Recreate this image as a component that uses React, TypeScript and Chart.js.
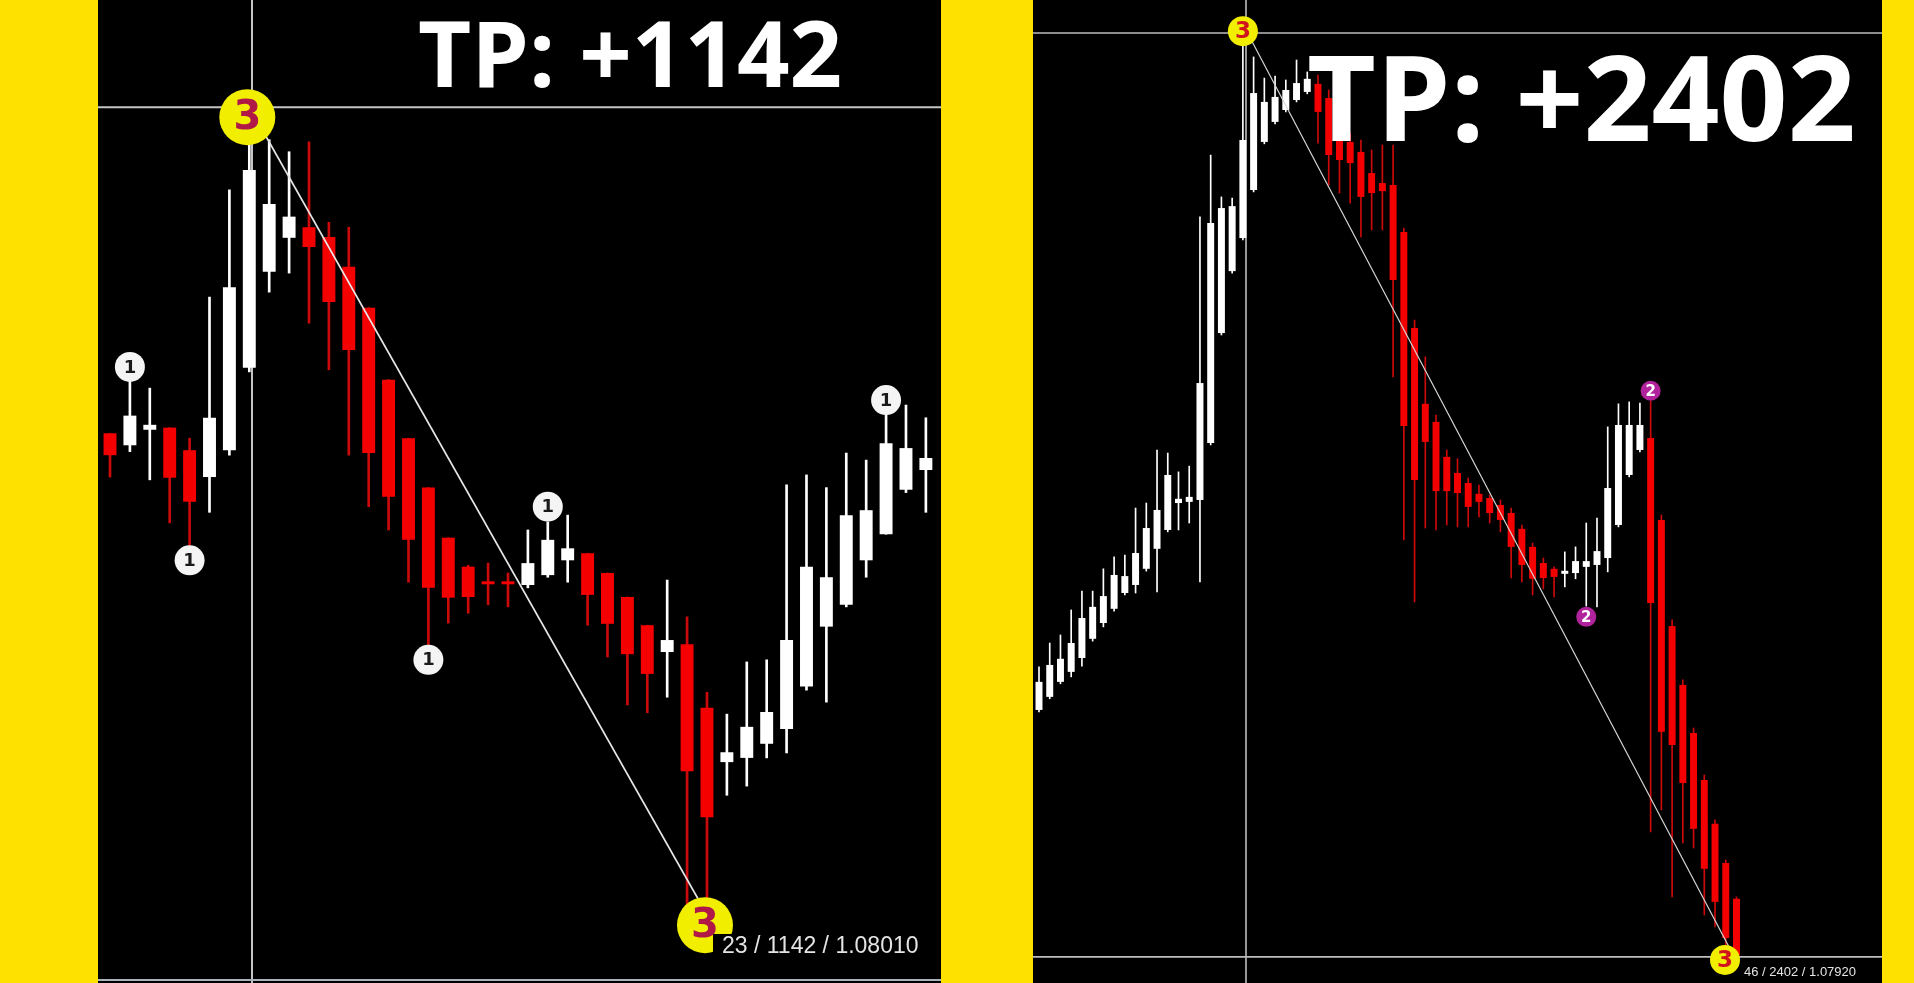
import React, { useEffect, useRef } from 'react';
import { Chart, registerables } from 'chart.js';

Chart.register(...registerables);

// ---------- LEFT CHART (23 bars, +1142) ----------
const L_OPEN = [1.08704, 1.08687, 1.08709, 1.08712, 1.0868, 1.08642, 1.0868, 1.08797, 1.08933, 1.08981, 1.08996, 1.08982, 1.0894, 1.08882, 1.0878, 1.08697, 1.08627, 1.08556, 1.08515, 1.08493, 1.08493, 1.08489, 1.08503, 1.08524, 1.08534, 1.08506, 1.08472, 1.08432, 1.08394, 1.08405, 1.08315, 1.08238, 1.08244, 1.08264, 1.08285, 1.08345, 1.0843, 1.08461, 1.08524, 1.08561, 1.08624, 1.08652];
const L_HIGH = [1.08704, 1.0878, 1.08768, 1.08712, 1.08697, 1.08897, 1.09049, 1.09127, 1.0912, 1.09103, 1.09117, 1.09003, 1.08996, 1.08882, 1.0878, 1.08697, 1.08627, 1.08556, 1.08517, 1.0852, 1.08506, 1.08567, 1.08578, 1.08588, 1.08534, 1.08506, 1.08472, 1.08432, 1.08496, 1.08444, 1.08337, 1.08306, 1.0838, 1.08383, 1.08631, 1.08645, 1.08627, 1.08676, 1.08666, 1.08731, 1.08744, 1.08726];
const L_LOW = [1.08642, 1.08678, 1.08638, 1.08577, 1.08541, 1.08592, 1.08673, 1.08791, 1.08904, 1.08931, 1.0886, 1.08794, 1.08673, 1.086, 1.08567, 1.08493, 1.08397, 1.08435, 1.08449, 1.08461, 1.08458, 1.08485, 1.085, 1.08493, 1.08432, 1.08387, 1.08319, 1.08308, 1.0833, 1.08019, 1.0801, 1.08191, 1.08204, 1.08244, 1.08251, 1.0834, 1.08323, 1.08458, 1.085, 1.08561, 1.0862, 1.08592];
const L_CLOSE = [1.08673, 1.08729, 1.08716, 1.08641, 1.08607, 1.08726, 1.08911, 1.09077, 1.09029, 1.09011, 1.08968, 1.0889, 1.08822, 1.08676, 1.08614, 1.08553, 1.08485, 1.08471, 1.08472, 1.0849, 1.0849, 1.0852, 1.08553, 1.08541, 1.08475, 1.08434, 1.08391, 1.08363, 1.08411, 1.08225, 1.0816, 1.08252, 1.08288, 1.08309, 1.08411, 1.08515, 1.085, 1.08588, 1.08595, 1.0869, 1.08683, 1.08669];
const L_MARK_X = [2, 5, 17, 23, 40, 7.9, 30.9];
const L_MARK_Y = [1.08798, 1.08524, 1.08383, 1.086, 1.08751, 1.09152, 1.08007];
const L_MARK_LABEL = ['1', '1', '1', '1', '1', '3', '3'];
const L_TREND_X = [8.29, 31.3];
const L_TREND_Y = [1.09152, 1.08007];
const L_CROSS_X = [8.136];
const L_CROSS_Y = [1.09166];

// ---------- RIGHT CHART (46 bars, +2402) ----------
const R_OPEN = [1.08562, 1.08596, 1.08635, 1.08661, 1.08697, 1.08747, 1.08788, 1.08825, 1.08866, 1.08887, 1.08929, 1.08981, 1.0903, 1.091, 1.09103, 1.09108, 1.09256, 1.09542, 1.09703, 1.09789, 1.09914, 1.10039, 1.10091, 1.10122, 1.10148, 1.10169, 1.1019, 1.10153, 1.10083, 1.10039, 1.10013, 1.09958, 1.09932, 1.09927, 1.09805, 1.09555, 1.09358, 1.09311, 1.0922, 1.09178, 1.09152, 1.09124, 1.09113, 1.09095, 1.09074, 1.09033, 1.08986, 1.08944, 1.08929, 1.08916, 1.08918, 1.08934, 1.08939, 1.08957, 1.09043, 1.09173, 1.09238, 1.09269, 1.09056, 1.0878, 1.08627, 1.08502, 1.0838, 1.08266, 1.08164, 1.08071];
const R_HIGH = [1.08674, 1.08736, 1.08757, 1.08822, 1.08871, 1.08871, 1.08929, 1.0896, 1.08965, 1.09087, 1.091, 1.09238, 1.0923, 1.09181, 1.09196, 1.09844, 1.10005, 1.09896, 1.09893, 1.10322, 1.1026, 1.10205, 1.1021, 1.102, 1.10252, 1.10221, 1.10213, 1.10174, 1.10101, 1.10062, 1.10044, 1.10018, 1.10031, 1.10031, 1.09815, 1.09576, 1.0948, 1.09329, 1.09238, 1.09215, 1.09165, 1.09147, 1.09121, 1.09108, 1.09087, 1.09043, 1.08996, 1.08957, 1.08934, 1.08973, 1.08986, 1.09048, 1.09061, 1.09298, 1.09358, 1.09363, 1.0936, 1.09365, 1.09069, 1.08796, 1.0864, 1.08515, 1.08393, 1.08276, 1.08172, 1.08076];
const R_LOW = [1.08557, 1.08591, 1.0863, 1.08648, 1.08676, 1.08741, 1.08778, 1.08819, 1.08861, 1.08866, 1.08923, 1.08869, 1.09025, 1.0903, 1.09048, 1.08895, 1.09251, 1.09537, 1.09698, 1.09784, 1.09909, 1.10034, 1.10086, 1.10117, 1.10143, 1.10164, 1.10036, 1.09927, 1.09906, 1.0988, 1.09792, 1.0981, 1.0981, 1.09428, 1.09004, 1.08843, 1.09035, 1.0903, 1.09043, 1.09038, 1.09038, 1.09064, 1.09048, 1.09025, 1.08905, 1.08895, 1.08861, 1.08877, 1.08856, 1.08882, 1.08903, 1.08832, 1.0883, 1.08921, 1.09038, 1.09168, 1.09233, 1.08245, 1.08302, 1.08076, 1.08216, 1.08203, 1.08029, 1.07998, 1.0792, 1.07925];
const R_CLOSE = [1.08635, 1.08679, 1.08695, 1.08736, 1.08801, 1.0883, 1.08858, 1.08913, 1.0891, 1.0897, 1.09035, 1.09082, 1.09173, 1.09111, 1.09116, 1.09412, 1.09828, 1.09867, 1.09872, 1.10044, 1.10166, 1.10143, 1.10156, 1.10174, 1.10192, 1.10203, 1.10117, 1.10005, 1.09992, 1.09984, 1.09896, 1.09906, 1.09911, 1.0968, 1.093, 1.0916, 1.09259, 1.09131, 1.09131, 1.09126, 1.0909, 1.09103, 1.09074, 1.09056, 1.08986, 1.08939, 1.08903, 1.08905, 1.08908, 1.08923, 1.08949, 1.08949, 1.08975, 1.09139, 1.09303, 1.09303, 1.09303, 1.0884, 1.08505, 1.08471, 1.08372, 1.08253, 1.08149, 1.08063, 1.07969, 1.07925];
const R_MARK_X = [20, 52, 58, 64.93];
const R_MARK_Y = [1.10327, 1.08804, 1.09392, 1.07912];
const R_MARK_LABEL = ['3', '2', '2', '3'];
const R_TREND_X = [20.29, 65.49];
const R_TREND_Y = [1.1033, 1.07936];
const R_CROSS_X = [20.29];
const R_CROSS_Y = [1.10322, 1.0792];

// ---------- styles ----------
const YELLOW = '#ffe100';
const UP = '#ffffff';
const DOWN = '#f50000';
const DOWN_WICK = '#cc0a0a';

type MarkStyle = { r: number; fill: string; text: string; font: string };
type Panel = {
  open: number[]; high: number[]; low: number[]; close: number[];
  markX: number[]; markY: number[]; markLabel: string[];
  trendX: number[]; trendY: number[];
  crossX: number[]; crossY: number[];
  xMin: number; xMax: number; yMin: number; yMax: number;
  bodyRatio: number; wickWidth: number;
  markStyle: Record<string, MarkStyle>;
  trendWidth: number; trendDash: number[]; trendColor: string;
  crossWidth: number; crossColor: string;
  bottomLine: boolean;
};

const LEFT: Panel = {
  open: L_OPEN, high: L_HIGH, low: L_LOW, close: L_CLOSE,
  markX: L_MARK_X, markY: L_MARK_Y, markLabel: L_MARK_LABEL,
  trendX: L_TREND_X, trendY: L_TREND_Y,
  crossX: L_CROSS_X, crossY: L_CROSS_Y,
  xMin: 0.397, xMax: 42.76, yMin: 1.07925, yMax: 1.09318,
  bodyRatio: 0.65, wickWidth: 2,
  markStyle: {
    '1': { r: 15, fill: '#f4f4f4', text: '#1a1a1a', font: 'bold 18px "DejaVu Sans"' },
    '3': { r: 28, fill: '#f2ee00', text: '#b01848', font: 'bold 40px "DejaVu Sans"' },
  },
  trendWidth: 1.8, trendDash: [], trendColor: '#e6e6e6',
  crossWidth: 2, crossColor: '#c4c4c4',
  bottomLine: true,
};

const RIGHT: Panel = {
  open: R_OPEN, high: R_HIGH, low: R_LOW, close: R_CLOSE,
  markX: R_MARK_X, markY: R_MARK_Y, markLabel: R_MARK_LABEL,
  trendX: R_TREND_X, trendY: R_TREND_Y,
  crossX: R_CROSS_X, crossY: R_CROSS_Y,
  xMin: 0.441, xMax: 79.56, yMin: 1.07852, yMax: 1.10408,
  bodyRatio: 0.65, wickWidth: 1,
  markStyle: {
    '2': { r: 10, fill: '#b0239c', text: '#ffffff', font: 'bold 15px "DejaVu Sans"' },
    '3': { r: 15, fill: '#f2ee00', text: '#d2141e', font: 'bold 23px "DejaVu Sans"' },
  },
  trendWidth: 1.2, trendDash: [], trendColor: '#d6d6d6',
  crossWidth: 1.6, crossColor: '#bdbdbd',
  bottomLine: false,
};

function CandleChart({ p, width, height }: { p: Panel; width: number; height: number }) {
  const ref = useRef<HTMLCanvasElement>(null);
  useEffect(() => {
    if (!ref.current) return;
    const n = p.open.length;
    const idx = Array.from({ length: n }, (_, i) => i + 1);
    const up = idx.map((_, i) => p.close[i] >= p.open[i]);
    const marks = p.markX.map((x, i) => ({ x, y: p.markY[i] }));
    const trend = p.trendX.map((x, i) => ({ x, y: p.trendY[i] }));

    const decor = {
      id: 'decor',
      beforeDraw(chart: any) {
        const c = chart.ctx;
        c.save();
        c.fillStyle = '#000';
        c.fillRect(0, 0, chart.width, chart.height);
        c.restore();
      },
      beforeDatasetsDraw(chart: any) {
        const c = chart.ctx;
        const xs = chart.scales.x;
        const ys = chart.scales.y;
        c.save();
        c.strokeStyle = p.crossColor;
        c.lineWidth = p.crossWidth;
        p.crossX.forEach((v) => {
          const px = xs.getPixelForValue(v);
          c.beginPath(); c.moveTo(px, 0); c.lineTo(px, chart.height); c.stroke();
        });
        p.crossY.forEach((v) => {
          const py = ys.getPixelForValue(v);
          c.beginPath(); c.moveTo(0, py); c.lineTo(chart.width, py); c.stroke();
        });
        c.restore();
      },
      afterDatasetsDraw(chart: any) {
        const c = chart.ctx;
        const meta = chart.getDatasetMeta(0);
        c.save();
        c.textAlign = 'center';
        c.textBaseline = 'middle';
        meta.data.forEach((el: any, i: number) => {
          const st = p.markStyle[p.markLabel[i]];
          c.font = st.font;
          c.fillStyle = st.text;
          c.fillText(p.markLabel[i], el.x, el.y + 1);
        });
        if (p.bottomLine) {
          c.fillStyle = '#aab3bc';
          c.fillRect(0, chart.height - 4, chart.width, 2);
        }
        c.restore();
      },
    };

    const chart = new Chart(ref.current, {
      type: 'bar',
      data: {
        datasets: [
          {
            type: 'scatter',
            data: marks,
            pointRadius: p.markLabel.map((l) => p.markStyle[l].r),
            pointHoverRadius: p.markLabel.map((l) => p.markStyle[l].r),
            pointBackgroundColor: p.markLabel.map((l) => p.markStyle[l].fill),
            pointBorderWidth: 0,
            clip: false,
            order: 0,
          } as any,
          {
            type: 'line',
            data: trend,
            borderColor: p.trendColor,
            borderWidth: p.trendWidth,
            borderDash: p.trendDash,
            pointRadius: 0,
            fill: false,
            order: 1,
          } as any,
          {
            type: 'bar',
            data: idx.map((x, i) => ({ x, y: [p.open[i], p.close[i]] })),
            backgroundColor: up.map((u) => (u ? UP : DOWN)),
            grouped: false,
            barPercentage: p.bodyRatio,
            categoryPercentage: 1,
            minBarLength: 3,
            borderWidth: 0,
            borderSkipped: false,
            order: 2,
          } as any,
          {
            type: 'bar',
            data: idx.map((x, i) => ({ x, y: [p.low[i], p.high[i]] })),
            backgroundColor: up.map((u) => (u ? UP : DOWN_WICK)),
            grouped: false,
            barThickness: p.wickWidth,
            borderWidth: 0,
            borderSkipped: false,
            order: 3,
          } as any,
        ],
      },
      options: {
        animation: false,
        responsive: false,
        maintainAspectRatio: false,
        events: [],
        layout: { padding: 0, autoPadding: false },
        plugins: { legend: { display: false }, tooltip: { enabled: false }, title: { display: false } },
        scales: {
          x: { type: 'linear', min: p.xMin, max: p.xMax, display: false, offset: false, grid: { display: false } },
          y: { type: 'linear', min: p.yMin, max: p.yMax, display: false, grid: { display: false } },
        },
      } as any,
      plugins: [decor as any],
    });
    return () => chart.destroy();
  }, [p]);
  return <canvas ref={ref} width={width} height={height} style={{ display: 'block', width, height }} />;
}

const tpStyle = (left: number, top: number, size: number): React.CSSProperties => ({
  position: 'absolute', left, top, fontFamily: '"Open Sans"', fontWeight: 700,
  fontSize: size, lineHeight: `${size}px`, color: '#ffffff', whiteSpace: 'nowrap',
});

const infoStyle = (left: number, top: number, size: number, pad: number): React.CSSProperties => ({
  position: 'absolute', left, top, fontFamily: '"Liberation Sans"', fontSize: size,
  lineHeight: `${size}px`, color: '#e4e4e4', background: '#000', paddingLeft: pad, paddingRight: 3,
  whiteSpace: 'nowrap',
});

export default function App() {
  return (
    <div style={{ position: 'fixed', left: 0, top: 0, width: 1914, height: 983, background: YELLOW, overflow: 'hidden' }}>
      <div style={{ position: 'absolute', left: 98, top: 0 }}>
        <CandleChart p={LEFT} width={843} height={983} />
      </div>
      <div style={{ position: 'absolute', left: 1033, top: 0 }}>
        <CandleChart p={RIGHT} width={849} height={983} />
      </div>
      <div style={tpStyle(418, 6, 92)}>TP: +1142</div>
      <div style={tpStyle(1307, 36, 119)}>TP: +2402</div>
      <div style={infoStyle(713, 934, 23, 9)}>23 / 1142 / 1.08010</div>
      <div style={infoStyle(1742, 965, 13, 2)}>46 / 2402 / 1.07920</div>
    </div>
  );
}
